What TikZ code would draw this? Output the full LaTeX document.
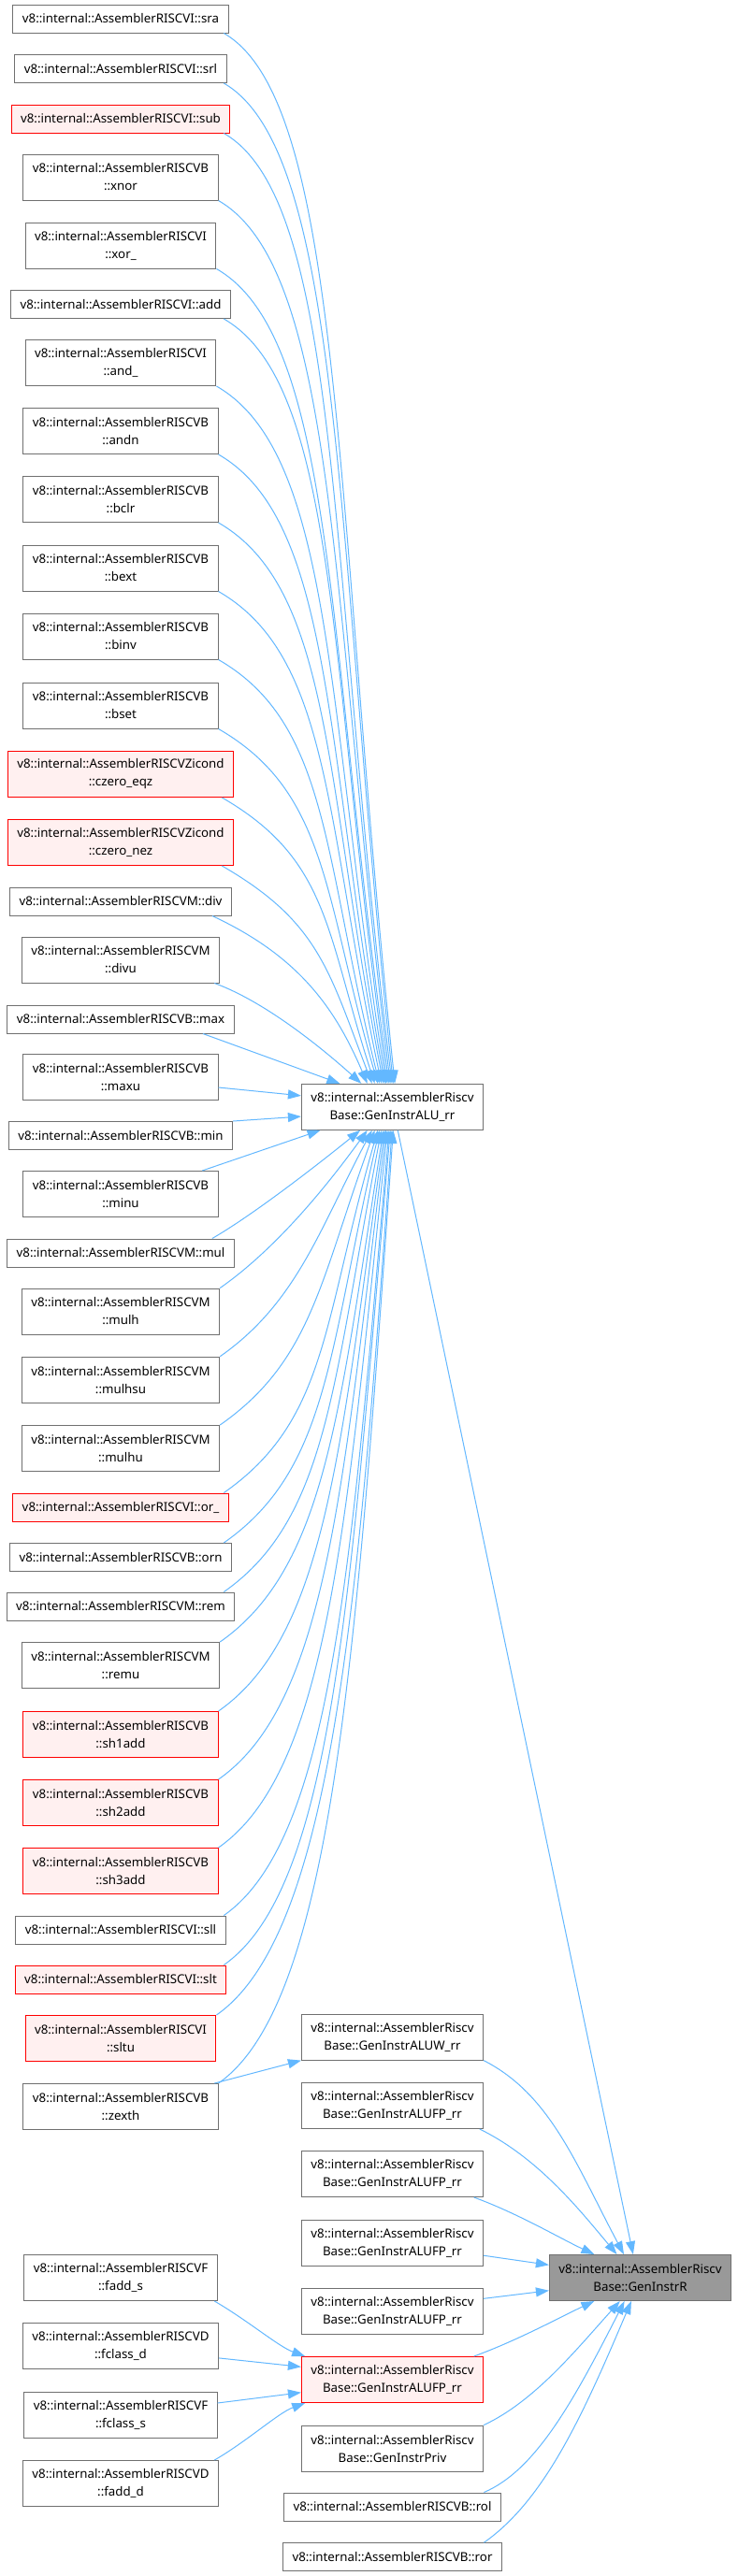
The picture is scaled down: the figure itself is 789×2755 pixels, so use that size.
\documentclass[tikz,border=0pt]{standalone}
\usepackage{fontspec}
\setmainfont{Noto Sans}
\usepackage{tikz}
\usetikzlibrary{arrows.meta, positioning}
\definecolor{callblue}{HTML}{63B8FF}
\definecolor{boxgray}{HTML}{707070}
\definecolor{hotred}{HTML}{FF0000}
\definecolor{hotfill}{HTML}{FFF0F0}
\definecolor{rootgray}{HTML}{999999}
\tikzset{
  fn/.style={draw=boxgray, fill=white, line width=1pt, inner xsep=10pt, inner ysep=2pt,
    align=center, font=\fontsize{13.3}{19}\selectfont},
  oneline/.style={minimum height=30pt},
  twoline/.style={minimum height=49pt},
  hot/.style={draw=hotred, fill=hotfill},
  rootfn/.style={fill=rootgray},
  call/.style={draw=callblue, line width=1pt, -{Triangle[length=14pt,width=10pt]}}}

\begin{document}
\begin{tikzpicture}[x=1pt, y=1pt]
  \useasboundingbox[fill=white] (0,0) rectangle (789,-2755);
  % left column
  \node[fn, oneline] (sra) at (129,-20) {v8::internal::AssemblerRISCVI::sra};
  \node[fn, oneline] (srl) at (129,-73.5) {v8::internal::AssemblerRISCVI::srl};
  \node[fn, oneline, hot] (sub) at (129,-127) {v8::internal::AssemblerRISCVI::sub};
  \node[fn, twoline] (xnor) at (129,-189.5) {v8::internal::AssemblerRISCVB\\::xnor};
  \node[fn, twoline] (xor) at (129,-262.5) {v8::internal::AssemblerRISCVI\\::xor\_};
  \node[fn, oneline] (add) at (129,-325.5) {v8::internal::AssemblerRISCVI::add};
  \node[fn, twoline] (and) at (129,-388) {v8::internal::AssemblerRISCVI\\::and\_};
  \node[fn, twoline] (andn) at (129,-461) {v8::internal::AssemblerRISCVB\\::andn};
  \node[fn, twoline] (bclr) at (129,-534) {v8::internal::AssemblerRISCVB\\::bclr};
  \node[fn, twoline] (bext) at (129,-607.5) {v8::internal::AssemblerRISCVB\\::bext};
  \node[fn, twoline] (binv) at (129,-680.5) {v8::internal::AssemblerRISCVB\\::binv};
  \node[fn, twoline] (bset) at (129,-754.5) {v8::internal::AssemblerRISCVB\\::bset};
  \node[fn, twoline, hot] (czeq) at (129,-828) {v8::internal::AssemblerRISCVZicond\\::czero\_eqz};
  \node[fn, twoline, hot] (czne) at (129,-901) {v8::internal::AssemblerRISCVZicond\\::czero\_nez};
  \node[fn, oneline] (div) at (129,-964) {v8::internal::AssemblerRISCVM::div};
  \node[fn, twoline] (divu) at (129,-1026.5) {v8::internal::AssemblerRISCVM\\::divu};
  \node[fn, oneline] (max) at (129,-1090) {v8::internal::AssemblerRISCVB::max};
  \node[fn, twoline] (maxu) at (129,-1152) {v8::internal::AssemblerRISCVB\\::maxu};
  \node[fn, oneline] (min) at (129,-1214.5) {v8::internal::AssemblerRISCVB::min};
  \node[fn, twoline] (minu) at (129,-1277) {v8::internal::AssemblerRISCVB\\::minu};
  \node[fn, oneline] (mul) at (129,-1340) {v8::internal::AssemblerRISCVM::mul};
  \node[fn, twoline] (mulh) at (129,-1402.5) {v8::internal::AssemblerRISCVM\\::mulh};
  \node[fn, twoline] (mulhsu) at (129,-1475.7) {v8::internal::AssemblerRISCVM\\::mulhsu};
  \node[fn, twoline] (mulhu) at (129,-1549) {v8::internal::AssemblerRISCVM\\::mulhu};
  \node[fn, oneline, hot] (or) at (129,-1612) {v8::internal::AssemblerRISCVI::or\_};
  \node[fn, oneline] (orn) at (129,-1665.5) {v8::internal::AssemblerRISCVB::orn};
  \node[fn, oneline] (rem) at (129,-1718) {v8::internal::AssemblerRISCVM::rem};
  \node[fn, twoline] (remu) at (129,-1781) {v8::internal::AssemblerRISCVM\\::remu};
  \node[fn, twoline, hot] (sh1add) at (129,-1855) {v8::internal::AssemblerRISCVB\\::sh1add};
  \node[fn, twoline, hot] (sh2add) at (129,-1928) {v8::internal::AssemblerRISCVB\\::sh2add};
  \node[fn, twoline, hot] (sh3add) at (129,-2001) {v8::internal::AssemblerRISCVB\\::sh3add};
  \node[fn, oneline] (sll) at (129,-2064) {v8::internal::AssemblerRISCVI::sll};
  \node[fn, oneline, hot] (slt) at (129,-2117) {v8::internal::AssemblerRISCVI::slt};
  \node[fn, twoline, hot] (sltu) at (129,-2180) {v8::internal::AssemblerRISCVI\\::sltu};
  \node[fn, twoline] (zexth) at (129,-2253) {v8::internal::AssemblerRISCVB\\::zexth};
  \node[fn, twoline] (fadds) at (129,-2436) {v8::internal::AssemblerRISCVF\\::fadd\_s};
  \node[fn, twoline] (fclassd) at (129,-2509) {v8::internal::AssemblerRISCVD\\::fclass\_d};
  \node[fn, twoline] (fclasss) at (129,-2582.7) {v8::internal::AssemblerRISCVF\\::fclass\_s};
  \node[fn, twoline] (faddd) at (129,-2656) {v8::internal::AssemblerRISCVD\\::fadd\_d};
  % middle column
  \node[fn, twoline] (alu) at (419.5,-1183.8) {v8::internal::AssemblerRiscv\\Base::GenInstrALU\_rr};
  \node[fn, twoline] (aluw) at (419.5,-2178.6) {v8::internal::AssemblerRiscv\\Base::GenInstrALUW\_rr};
  \node[fn, twoline] (fpa) at (419.5,-2252) {v8::internal::AssemblerRiscv\\Base::GenInstrALUFP\_rr};
  \node[fn, twoline] (fpb) at (419.5,-2325) {v8::internal::AssemblerRiscv\\Base::GenInstrALUFP\_rr};
  \node[fn, twoline] (fpc) at (419.5,-2398.5) {v8::internal::AssemblerRiscv\\Base::GenInstrALUFP\_rr};
  \node[fn, twoline] (fpd) at (419.5,-2472) {v8::internal::AssemblerRiscv\\Base::GenInstrALUFP\_rr};
  \node[fn, twoline, hot] (fpe) at (419.5,-2545) {v8::internal::AssemblerRiscv\\Base::GenInstrALUFP\_rr};
  \node[fn, twoline] (priv) at (419.5,-2618.6) {v8::internal::AssemblerRiscv\\Base::GenInstrPriv};
  \node[fn, oneline] (rol) at (419.5,-2681) {v8::internal::AssemblerRISCVB::rol};
  \node[fn, oneline] (ror) at (419.5,-2734.7) {v8::internal::AssemblerRISCVB::ror};
  \node[fn, twoline, rootfn] (genr) at (684.5,-2436) {v8::internal::AssemblerRiscv\\Base::GenInstrR};

  % callers of GenInstrALU_rr
  \draw[call] (sra.-8) .. controls +(-30:147) and +(96:618) .. (alu.84);
  \draw[call] (srl.-8) .. controls +(-30:146) and +(96:589) .. (alu.88);
  \draw[call] (sub.-8) .. controls +(-30:145) and +(97:559) .. (alu.91);
  \draw[call] (xnor.south east) .. controls +(-30:146) and +(97:521) .. (alu.95);
  \draw[call] (xor.south east) .. controls +(-30:146) and +(98:480) .. (alu.98);
  \draw[call] (add.-8) .. controls +(-30:141) and +(98:450) .. (alu.102);
  \draw[call] (and.south east) .. controls +(-30:144) and +(99:411) .. (alu.105);
  \draw[call] (andn.south east) .. controls +(-30:141) and +(100:370) .. (alu.108);
  \draw[call] (bclr.south east) .. controls +(-30:140) and +(101:330) .. (alu.111);
  \draw[call] (bext.south east) .. controls +(-30:138) and +(102:290) .. (alu.115);
  \draw[call] (binv.south east) .. controls +(-30:137) and +(104:250) .. (alu.119);
  \draw[call] (bset.south east) .. controls +(-30:135) and +(106:209) .. (alu.122);
  \draw[call] (czeq.-13) .. controls +(-30:133) and +(108:169) .. (alu.127);
  \draw[call] (czne.-13) .. controls +(-30:120) and +(111:129) .. (alu.131);
  \draw[call] (div.-9) .. controls +(-25:100) and +(113:90) .. (alu.137);
  \draw[call] (divu.-14) .. controls +(-20:60) and +(138:50) .. (alu.143);
  \draw[call] (max.-10) -- (alu.156);
  \draw[call] (maxu.-6) -- (alu.173);
  \draw[call] (min.north east) -- (alu.186);
  \draw[call] (minu.16) -- (alu.198);
  \draw[call] (mul.9) .. controls +(30:50) and +(219:60) .. (alu.216);
  \draw[call] (mulh.north east) .. controls +(35:70) and +(234:80) .. (alu.223);
  \draw[call] (mulhsu.north east) .. controls +(35:100) and +(242:120) .. (alu.229);
  \draw[call] (mulhu.north east) .. controls +(35:120) and +(250:170) .. (alu.233);
  \draw[call] (or.8) .. controls +(35:135) and +(254:215) .. (alu.238);
  \draw[call] (orn.8) .. controls +(35:137) and +(257:243) .. (alu.241);
  \draw[call] (rem.8) .. controls +(35:137) and +(259:272) .. (alu.245);
  \draw[call] (remu.north east) .. controls +(35:139) and +(261:302) .. (alu.249);
  \draw[call] (sh1add.north east) .. controls +(35:141) and +(262:342) .. (alu.252);
  \draw[call] (sh2add.north east) .. controls +(35:142) and +(263:383) .. (alu.255);
  \draw[call] (sh3add.north east) .. controls +(35:144) and +(264:423) .. (alu.258);
  \draw[call] (sll.8) .. controls +(35:142) and +(265:463) .. (alu.262);
  \draw[call] (slt.8) .. controls +(35:144) and +(265:492) .. (alu.265);
  \draw[call] (sltu.north east) .. controls +(35:149) and +(266:521) .. (alu.269);
  \draw[call] (zexth.north east) .. controls +(35:149) and +(266:561) .. (alu.272);
  \draw[call] (zexth.14) -- (aluw.south west);

  % callers of GenInstrALUFP_rr
  \draw[call] (fadds.-14) .. controls +(-30:40) and +(160:30) .. (fpe.165);
  \draw[call] (fclassd.-7) -- (fpe.172);
  \draw[call] (fclasss.7) -- (fpe.188);
  \draw[call] (faddd.14) .. controls +(30:40) and +(200:30) .. (fpe.195);

  % callers of GenInstrR
  \draw[call] (alu.-77) -- (genr.107);
  \draw[call] (aluw.south east) .. controls +(-27:80) and +(118:110) .. (genr.125);
  \draw[call] (fpa.-15) .. controls +(-26:70) and +(130:60) .. (genr.135);
  \draw[call] (fpb.-16) .. controls +(-20:50) and +(155:40) .. (genr.153);
  \draw[call] (fpc.-8) -- (genr.172);
  \draw[call] (fpd.8) -- (genr.188);
  \draw[call] (fpe.16) .. controls +(20:50) and +(205:40) .. (genr.207);
  \draw[call] (priv.north east) .. controls +(25:60) and +(228:70) .. (genr.229);
  \draw[call] (rol.9) .. controls +(23:60) and +(243:120) .. (genr.236);
  \draw[call] (ror.9) .. controls +(35:80) and +(247:130) .. (genr.249);
\end{tikzpicture}
\end{document}
